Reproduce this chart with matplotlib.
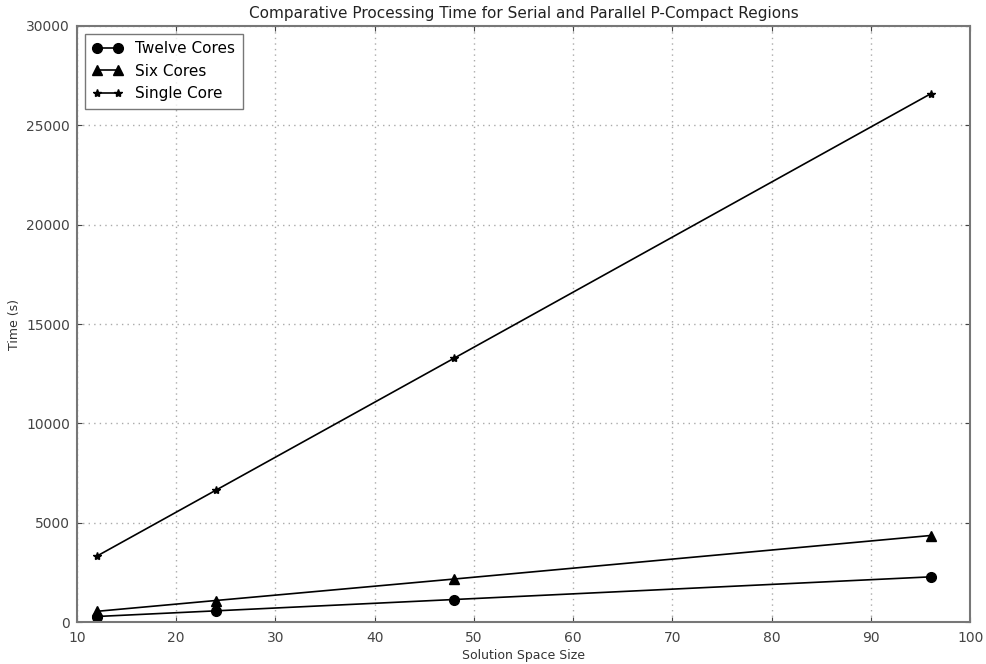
import matplotlib
matplotlib.use('Agg')
import matplotlib.pyplot as plt

x = [12, 24, 48, 96]
twelve = [285, 570, 1140, 2280]
six = [545, 1090, 2170, 4360]
single = [3320, 6640, 13280, 26580]


def main():
    fig = plt.figure(figsize=(9.86, 6.64), dpi=100)
    ax = fig.add_axes([0.078, 0.063, 0.906, 0.898])
    ax.plot(x, twelve, 'k-', lw=1.2, marker='o', markersize=7, label='Twelve Cores')
    ax.plot(x, six, 'k-', lw=1.2, marker='^', markersize=7, label='Six Cores')
    ax.plot(x, single, 'k-', lw=1.2, marker='*', markersize=6, label='Single Core')
    ax.set_xlim(10, 100)
    ax.set_ylim(0, 30000)
    ax.set_title('Comparative Processing Time for Serial and Parallel P-Compact Regions',
                 fontsize=11, color='#222222')
    ax.set_xlabel('Solution Space Size', fontsize=9, color='#333333', labelpad=3)
    ax.set_ylabel('Time (s)', fontsize=9, color='#333333')
    ax.grid(True, linestyle=(0, (1, 3)), color='#aaaaaa', linewidth=1)
    ax.tick_params(direction='in', labelsize=10, colors='#444444', top=True, right=True)
    ax.tick_params(axis='x', pad=6)
    ax.tick_params(axis='y', pad=5)
    for s in ax.spines.values():
        s.set_color('#777777')
        s.set_linewidth(1.5)
    leg = ax.legend(loc='upper left', numpoints=2, fontsize=11, fancybox=False,
                    handlelength=2, borderaxespad=0.5, borderpad=0.5)
    leg.get_frame().set_edgecolor('#555555')
    leg.get_frame().set_linewidth(1.0)
    fig.savefig('out.png', dpi=100)


if __name__ == "__main__":
    main()
